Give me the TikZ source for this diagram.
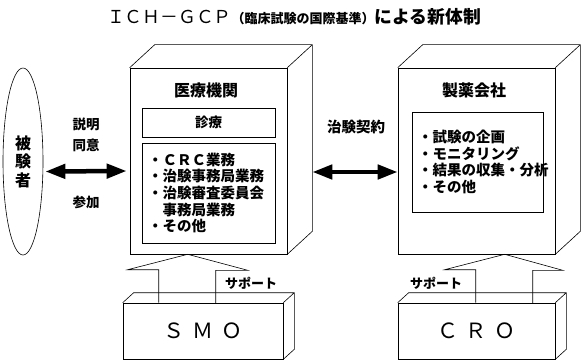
\documentclass[tikz,border=0pt]{standalone}
\usepackage{fontspec}
\setmainfont{Noto Sans CJK JP}
\usetikzlibrary{arrows.meta, shapes.geometric, calc}

\begin{document}
\begin{tikzpicture}[x=1pt, y=-1pt,
    face/.style={draw, line width=0.6pt, fill=white, inner sep=0pt},
    inbox/.style={draw, line width=0.6pt, inner sep=0pt},
    lst/.style={inbox, inner xsep=6pt, align=left, text width=121pt, minimum height=100pt, font=\fontsize{14.5}{16.6}\selectfont\bfseries},
    lbl/.style={font=\fontsize{13.5}{21}\selectfont\bfseries, align=center},
    big/.style={line width=4.5pt, {Triangle[length=20pt,width=14pt]}-{Triangle[length=20pt,width=14pt]}},
    support/.style={draw, line width=0.6pt, line join=miter}
]
    \useasboundingbox (0,0) rectangle (581,361);
    \node (title) at (294,17) {\fontsize{17.8}{17.8}\selectfont ＩＣＨ－ＧＣＰ{\fontsize{13}{13}\selectfont\bfseries （臨床試験の国際基準）}\bfseries による新体制};

    \node[face, minimum width=157pt, minimum height=186pt] (med) at (208.5,161) {};
    \draw[line width=0.6pt] (med.north west) -- ++(25,-23) -| ($(med.south east)+(25,-23)$) -- (med.south east) (med.north east) -- ++(25,-23);
    \node[font=\fontsize{16}{16}\selectfont\bfseries] (medname) at (206,90) {医療機関};
    \node[inbox, minimum width=133pt, minimum height=29pt, font=\fontsize{13.5}{13.5}\selectfont\bfseries] (shinryo) at (208.5,122.5) {診療};
    \node[lst] (medlist) at (208.5,193) {・ＣＲＣ業務\\・治験事務局業務\\・治験審査委員会\\\hphantom{・}事務局業務\\・その他};

    \node[face, minimum width=157pt, minimum height=186pt] (pharma) at (476.5,161) {};
    \draw[line width=0.6pt] (pharma.north west) -- ++(25,-23) -| ($(pharma.south east)+(25,-23)$) -- (pharma.south east) (pharma.north east) -- ++(25,-23);
    \node[font=\fontsize{16}{16}\selectfont\bfseries] (pharmaname) at (474,90) {製薬会社};
    \node[lst, text width=119pt] (pharmalist) at (477.5,162) {・試験の企画\\・モニタリング\\・結果の収集・分析\\・その他};

    \node[draw, ellipse, line width=0.6pt, minimum width=40pt, minimum height=187pt, inner sep=0pt, align=center, font=\fontsize{16}{18.5}\selectfont\bfseries] (subj) at (23,161.5) {被\\験\\者};
    \node[lbl] (setsumei) at (86,134.5) {説明\\同意};
    \node[lbl] (sanka) at (86,202) {参加};
    \draw[big] ($(subj.east)+(2,10)$) -- ($(med.west)+(-3,10)$);

    \node[font=\fontsize{14.5}{14.5}\selectfont\bfseries] (keiyaku) at (356,127) {治験契約};
    \draw[big] ($(med.east)+(25,11)$) -- ($(pharma.west)+(0,11)$);

    \node[face, minimum width=160pt, minimum height=56pt, font=\fontsize{21}{21}\selectfont] (smo) at (203,331) {Ｓ\kern8ptＭ\kern8ptＯ};
    \draw[line width=0.6pt] (smo.north west) -- ++(11,-10) -| ($(smo.south east)+(11,-10)$) -- (smo.south east) (smo.north east) -- ++(11,-10);
    \node[face, minimum width=157pt, minimum height=56pt, font=\fontsize{21}{21}\selectfont] (cro) at (476.5,331) {Ｃ\kern8ptＲ\kern8ptＯ};
    \draw[line width=0.6pt] (cro.north west) -- ++(11,-10) -| ($(cro.south east)+(11,-10)$) -- (cro.south east) (cro.north east) -- ++(11,-10);

    \draw[support] ($(smo.north west)+(36,0)$) -- ++(0,-33) -- ++(-31,0) -- ($(med.south west)+(58,0)$) -- ++(60,16) -- ++(-32,0) -- ++(0,33);
    \draw[support] ($(cro.north west)+(78,0)$) -- ++(0,-33) -- ++(-31,0) -- ($(pharma.south west)+(107,0)$) -- ++(58,16) -- ++(-30,0) -- ++(0,33);
    \node[font=\fontsize{13}{13}\selectfont\bfseries] (supsmo) at (251,283) {サポート};
    \node[font=\fontsize{13}{13}\selectfont\bfseries] (supcro) at (436,283) {サポート};
\end{tikzpicture}
\end{document}
